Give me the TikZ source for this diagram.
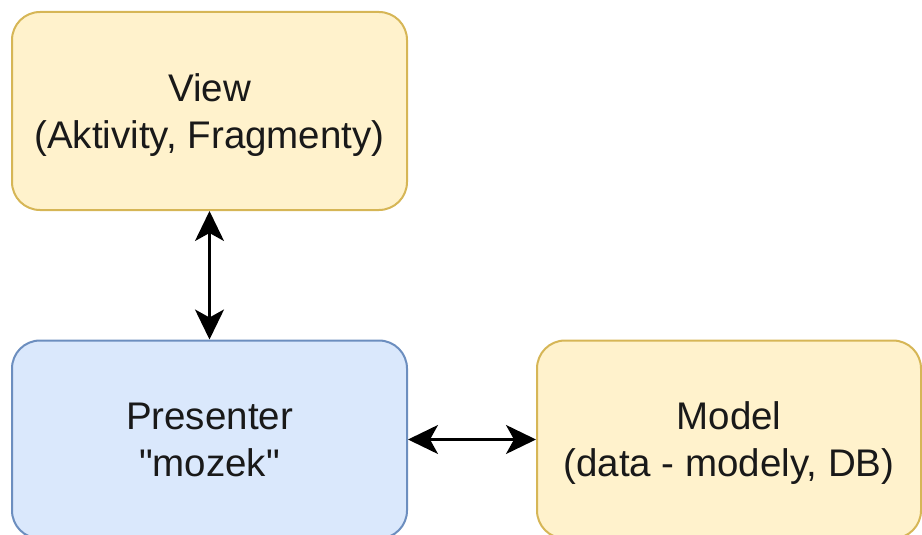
\documentclass[tikz,border=0pt]{standalone}
\usepackage{fontspec}
\setmainfont{Liberation Sans}
\usetikzlibrary{positioning,arrows.meta}
\definecolor{viewfill}{HTML}{FFF2CC}
\definecolor{viewdraw}{HTML}{D6B656}
\definecolor{presfill}{HTML}{DAE8FC}
\definecolor{presdraw}{HTML}{6C8EBF}

\begin{document}
\begin{tikzpicture}[
  x=1pt, y=-1pt,
  yellowbox/.style={draw=viewdraw, fill=viewfill, line width=2pt,
               rounded corners=28pt, align=center, inner sep=0pt,
               minimum height=198pt, minimum width=395pt, text depth=0pt,
               text=black!90, font=\fontsize{38.5}{47}\selectfont},
  bluebox/.style={yellowbox, draw=presdraw, fill=presfill},
  biarrow/.style={line width=2.2pt, {Stealth[length=30pt, width=29pt, inset=8pt]}-{Stealth[length=30pt, width=29pt, inset=8pt]}},
]
\useasboundingbox (0,0) rectangle (922,535);

\node[yellowbox] (view) at (209.5, 111) {View\\(Aktivity, Fragmenty)};
\node[bluebox] (presenter) at (209.5, 439.5) {Presenter\\\textquotedbl mozek\textquotedbl};
\node[yellowbox, minimum width=384pt] (model) at (729, 439.5)
  {Model\\(data - modely, DB)};

% spojeni
\draw[biarrow] (view.south) -- (presenter.north);
\draw[biarrow] (presenter.east) -- (model.west);

\end{tikzpicture}
\end{document}
